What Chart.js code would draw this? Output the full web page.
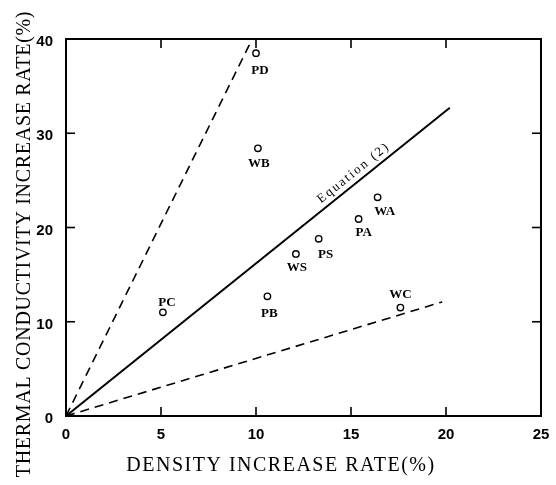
<!DOCTYPE html>
<html><head><meta charset="utf-8">
<script src="https://cdn.jsdelivr.net/npm/chart.js@4/dist/chart.umd.min.js"></script>
<style>html,body{margin:0;padding:0;background:#fff}#wrap{width:556px;height:485px}</style>
</head><body><div id="wrap"><canvas id="c" width="556" height="485"></canvas></div>
<script>
// Data
const pointNames = ['PD','WB','PC','PB','WC','WA','PA','PS','WS'];
const densityRate = [10.0, 10.1, 5.1, 10.6, 17.6, 16.4, 15.4, 13.3, 12.1];
const conductivityRate = [38.5, 28.4, 11.0, 12.7, 11.5, 23.2, 20.9, 18.8, 17.2];
const equationX = [0, 20.2];
const equationY = [0, 32.7];
const upperDashX = [0, 9.8];
const upperDashY = [0, 40];
const lowerDashX = [0, 19.8];
const lowerDashY = [0, 12.1];
const xTicks = [0, 5, 10, 15, 20, 25];
const yTicks = [0, 10, 20, 30, 40];
const xTitle = 'DENSITY INCREASE RATE(%)';
const yTitle = 'THERMAL CONDUCTIVITY INCREASE RATE(%)';
const lineLabel = 'Equation (2)';

// label offsets in pixels (style only)
const labelOffsets = [[4,18],[1,15],[4,-10],[2,17],[0,-13],[7,14],[5,14],[7,16],[1,14]];

const toXY = (xs, ys) => xs.map((x, i) => ({x, y: ys[i]}));

const framePlugin = {
  id: 'frame',
  afterDraw(chart) {
    const {ctx, chartArea: a, scales: {x, y}} = chart;
    ctx.save();
    ctx.strokeStyle = '#000';
    ctx.lineWidth = 2;
    ctx.strokeRect(a.left, a.top, a.right - a.left, a.bottom - a.top);
    ctx.lineWidth = 1.6;
    const t = 9;
    xTicks.forEach(v => {
      if (v === xTicks[0] || v === xTicks[xTicks.length-1]) return;
      const px = x.getPixelForValue(v);
      ctx.beginPath(); ctx.moveTo(px, a.bottom); ctx.lineTo(px, a.bottom - t); ctx.stroke();
      ctx.beginPath(); ctx.moveTo(px, a.top); ctx.lineTo(px, a.top + t); ctx.stroke();
    });
    yTicks.forEach(v => {
      if (v === yTicks[0] || v === yTicks[yTicks.length-1]) return;
      const py = y.getPixelForValue(v);
      ctx.beginPath(); ctx.moveTo(a.left, py); ctx.lineTo(a.left + t, py); ctx.stroke();
      ctx.beginPath(); ctx.moveTo(a.right, py); ctx.lineTo(a.right - t, py); ctx.stroke();
    });
    // tick labels
    ctx.fillStyle = '#000';
    ctx.font = 'bold 15px "Liberation Sans"';
    ctx.textBaseline = 'middle';
    ctx.textAlign = 'center';
    xTicks.forEach(v => ctx.fillText(String(v), x.getPixelForValue(v), a.bottom + 19));
    ctx.textAlign = 'right';
    yTicks.forEach(v => ctx.fillText(String(v), a.left - 13, y.getPixelForValue(v) + 3));
    // point labels
    ctx.font = 'bold 13px "Liberation Serif"';
    ctx.textAlign = 'center';
    ctx.textBaseline = 'middle';
    pointNames.forEach((n, i) => {
      const px = x.getPixelForValue(densityRate[i]) + labelOffsets[i][0];
      const py = y.getPixelForValue(conductivityRate[i]) + labelOffsets[i][1];
      ctx.fillText(n, px, py);
    });
    // equation label along the line
    const x0 = x.getPixelForValue(equationX[0]), y0 = y.getPixelForValue(equationY[0]);
    const x1 = x.getPixelForValue(equationX[1]), y1 = y.getPixelForValue(equationY[1]);
    const ang = Math.atan2(y1 - y0, x1 - x0);
    const f = 0.765;
    const cx = x0 + (x1 - x0) * f, cy = y0 + (y1 - y0) * f;
    ctx.save();
    ctx.translate(cx, cy);
    ctx.rotate(ang);
    ctx.font = '13px "Liberation Serif"';
    ctx.letterSpacing = '2px';
    ctx.textBaseline = 'alphabetic';
    ctx.fillText(lineLabel, 0, -6);
    ctx.restore();
    // axis titles
    ctx.font = '20px "Liberation Serif"';
    ctx.textBaseline = 'middle';
    ctx.textAlign = 'center';
    ctx.letterSpacing = '1.5px';
    ctx.fillText(xTitle, 281, 466);
    ctx.save();
    ctx.translate(25, 244);
    ctx.rotate(-Math.PI / 2);
    ctx.letterSpacing = '0.7px';
    ctx.fillText(yTitle, 0, 0);
    ctx.restore();
    ctx.restore();
  }
};

new Chart(document.getElementById('c'), {
  type: 'scatter',
  data: {
    datasets: [
      { data: toXY(densityRate, conductivityRate), pointRadius: 3.2, pointBorderWidth: 1.4,
        pointBorderColor: '#000', pointBackgroundColor: '#fff', showLine: false },
      { data: toXY(equationX, equationY), showLine: true, borderColor: '#000', borderWidth: 2, pointRadius: 0 },
      { data: toXY(upperDashX, upperDashY), showLine: true, borderColor: '#000', borderWidth: 1.6, borderDash: [9, 6], pointRadius: 0 },
      { data: toXY(lowerDashX, lowerDashY), showLine: true, borderColor: '#000', borderWidth: 1.6, borderDash: [9, 6], pointRadius: 0 }
    ]
  },
  options: {
    responsive: false,
    animation: false,
    layout: { padding: { left: 0, right: 15, top: 39, bottom: 0 } },
    plugins: { legend: { display: false }, tooltip: { enabled: false } },
    scales: {
      x: {
        type: 'linear', min: 0, max: 25,
        afterBuildTicks: s => { s.ticks = xTicks.map(v => ({value: v})); },
        afterFit: s => { s.height = 69; },
        grid: { display: false }, border: { display: false },
        ticks: { display: false }
      },
      y: {
        type: 'linear', min: 0, max: 40,
        afterBuildTicks: s => { s.ticks = yTicks.map(v => ({value: v})); },
        afterFit: s => { s.width = 66; },
        grid: { display: false }, border: { display: false },
        ticks: { display: false }
      }
    }
  },
  plugins: [framePlugin]
});
</script></body></html>
